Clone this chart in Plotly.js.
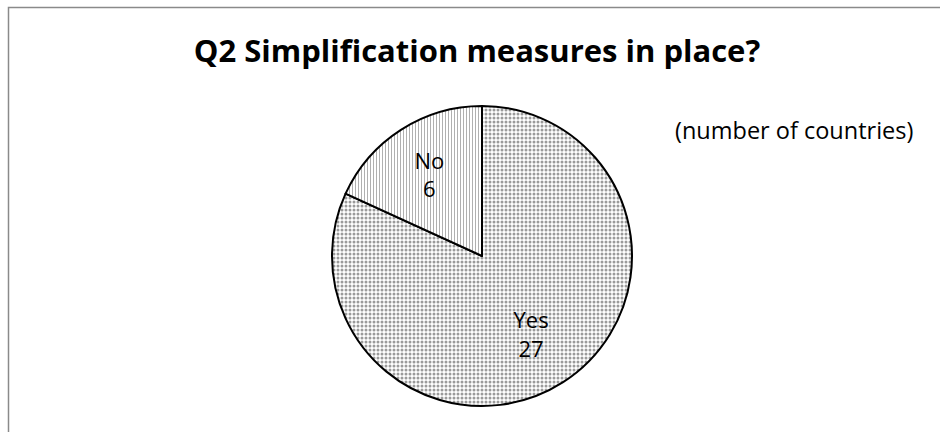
<!DOCTYPE html>
<html>
<head>
<meta charset="utf-8">
<script src="https://cdn.plot.ly/plotly-3.0.1.min.js"></script>
<style>html,body{margin:0;padding:0;background:#fff;}#chart{width:940px;height:432px;}</style>
</head>
<body>
<div id="chart"></div>
<script>
const categories = ["Yes", "No"];
const values = [27, 6];
const chartTitle = "Q2 Simplification measures in place?";
const unitNote = "(number of countries)";

const W = 940, H = 432;
const trace = {
  type: "pie",
  labels: categories,
  values: values,
  sort: false,
  direction: "clockwise",
  rotation: 0,
  texttemplate: ["&nbsp;<br>&nbsp;&nbsp;&nbsp;%{label}<br>&nbsp;&nbsp;&nbsp;%{value}", "%{label}<br>%{value}"],
  textposition: "inside",
  insidetextorientation: "horizontal",
  textfont: {family: "Open Sans, sans-serif", size: 22, color: "#000"},
  marker: {
    colors: ["#ffffff", "#ffffff"],
    line: {color: "#000", width: 2},
    pattern: {
      shape: [".", "|"],
      fgcolor: ["#9a9a9a", "#b0b0b0"],
      bgcolor: ["#ffffff", "#ffffff"],
      size: [4, 3],
      solidity: [0.45, 0.35],
      fillmode: "replace"
    }
  },
  domain: {x: [332/W, 632/W], y: [(H-406)/H, (H-106)/H]},
  showlegend: false,
  hoverinfo: "none"
};

const layout = {
  width: W, height: H,
  margin: {l: 0, r: 0, t: 0, b: 0},
  paper_bgcolor: "#fff",
  title: {
    text: "<b>" + chartTitle + "</b>",
    font: {family: "Open Sans, sans-serif", size: 31, color: "#000"},
    x: 477/W, xanchor: "center",
    y: 1 - 51/H, yanchor: "middle"
  },
  annotations: [{
    text: unitNote, showarrow: false,
    xref: "paper", yref: "paper",
    x: 794/W, y: 1 - 130/H, xanchor: "center", yanchor: "middle",
    font: {family: "Open Sans, sans-serif", size: 23.5, color: "#000"}
  }],
  shapes: [{
    type: "rect", xref: "paper", yref: "paper",
    x0: 8.5/W, x1: 1.05, y0: -0.05, y1: 1 - 7.5/H,
    line: {color: "#8a8a8a", width: 1.5}
  }]
};

Plotly.newPlot("chart", [trace], layout, {staticPlot: true, displayModeBar: false});
</script>
</body>
</html>
